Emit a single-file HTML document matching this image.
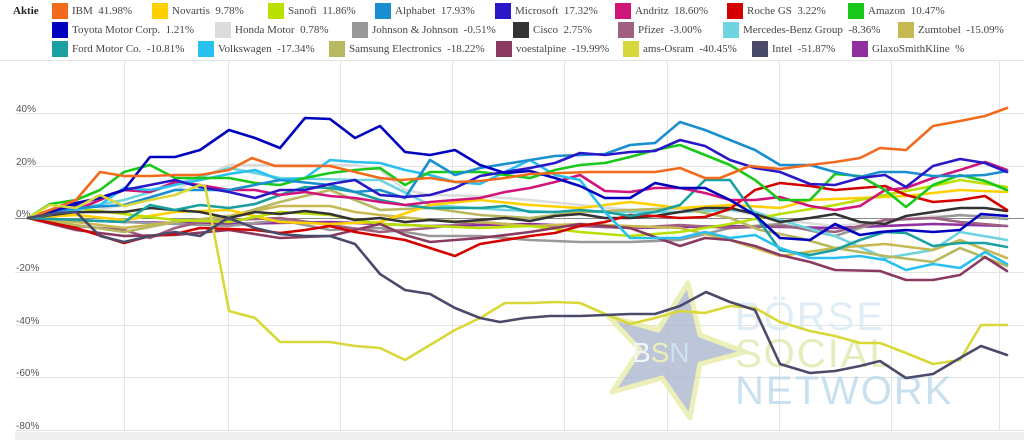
<!DOCTYPE html>
<html><head><meta charset="utf-8"><style>
body{margin:0;background:#fff;width:1024px;height:440px;overflow:hidden;position:relative;font-family:"Liberation Serif",serif}
.lg{position:absolute;font-size:11px;color:#444;white-space:nowrap;line-height:15px}
.sw{position:absolute;width:16px;height:16px}
.yl{position:absolute;left:16px;font-family:"Liberation Sans",sans-serif;font-size:10px;color:#555}
</style></head><body>
<div class="lg" style="left:13px;top:4px;font-weight:bold;color:#222">Aktie</div>
<!-- row1 -->
<div class="sw" style="left:52px;top:3px;background:#f26b1d"></div><div class="lg" style="left:72px;top:4px">IBM&nbsp; 41.98%</div>
<div class="sw" style="left:152px;top:3px;background:#ffd000"></div><div class="lg" style="left:172px;top:4px">Novartis&nbsp; 9.78%</div>
<div class="sw" style="left:268px;top:3px;background:#b8e000"></div><div class="lg" style="left:288px;top:4px">Sanofi&nbsp; 11.86%</div>
<div class="sw" style="left:375px;top:3px;background:#1a8fd0"></div><div class="lg" style="left:395px;top:4px">Alphabet&nbsp; 17.93%</div>
<div class="sw" style="left:495px;top:3px;background:#2a17c8"></div><div class="lg" style="left:515px;top:4px">Microsoft&nbsp; 17.32%</div>
<div class="sw" style="left:615px;top:3px;background:#d0157a"></div><div class="lg" style="left:635px;top:4px">Andritz&nbsp; 18.60%</div>
<div class="sw" style="left:727px;top:3px;background:#d40000"></div><div class="lg" style="left:747px;top:4px">Roche GS&nbsp; 3.22%</div>
<div class="sw" style="left:848px;top:3px;background:#19c819"></div><div class="lg" style="left:868px;top:4px">Amazon&nbsp; 10.47%</div>
<!-- row2 -->
<div class="sw" style="left:52px;top:22px;background:#0000c0"></div><div class="lg" style="left:72px;top:23px">Toyota Motor Corp.&nbsp; 1.21%</div>
<div class="sw" style="left:215px;top:22px;background:#dcdcdc"></div><div class="lg" style="left:235px;top:23px">Honda Motor&nbsp; 0.78%</div>
<div class="sw" style="left:352px;top:22px;background:#999"></div><div class="lg" style="left:372px;top:23px">Johnson &amp; Johnson&nbsp; -0.51%</div>
<div class="sw" style="left:513px;top:22px;background:#333"></div><div class="lg" style="left:533px;top:23px">Cisco&nbsp; 2.75%</div>
<div class="sw" style="left:618px;top:22px;background:#a06080"></div><div class="lg" style="left:638px;top:23px">Pfizer&nbsp; -3.00%</div>
<div class="sw" style="left:723px;top:22px;background:#6ed4e0"></div><div class="lg" style="left:743px;top:23px">Mercedes-Benz Group&nbsp; -8.36%</div>
<div class="sw" style="left:898px;top:22px;background:#c8b850"></div><div class="lg" style="left:918px;top:23px">Zumtobel&nbsp; -15.09%</div>
<!-- row3 -->
<div class="sw" style="left:52px;top:41px;background:#1aa0a0"></div><div class="lg" style="left:72px;top:42px">Ford Motor Co.&nbsp; -10.81%</div>
<div class="sw" style="left:198px;top:41px;background:#29c0f0"></div><div class="lg" style="left:218px;top:42px">Volkswagen&nbsp; -17.34%</div>
<div class="sw" style="left:329px;top:41px;background:#b8b860"></div><div class="lg" style="left:349px;top:42px">Samsung Electronics&nbsp; -18.22%</div>
<div class="sw" style="left:496px;top:41px;background:#8a3a60"></div><div class="lg" style="left:516px;top:42px">voestalpine&nbsp; -19.99%</div>
<div class="sw" style="left:623px;top:41px;background:#d8d83a"></div><div class="lg" style="left:643px;top:42px">ams-Osram&nbsp; -40.45%</div>
<div class="sw" style="left:752px;top:41px;background:#4a4a6a"></div><div class="lg" style="left:772px;top:42px">Intel&nbsp; -51.87%</div>
<div class="sw" style="left:852px;top:41px;background:#9030a0"></div><div class="lg" style="left:872px;top:42px">GlaxoSmithKline&nbsp; %</div>

<div class="yl" style="top:104px">40%</div>
<div class="yl" style="top:157px">20%</div>
<div class="yl" style="top:209px">0%</div>
<div class="yl" style="top:263px">-20%</div>
<div class="yl" style="top:316px">-40%</div>
<div class="yl" style="top:368px">-60%</div>
<div class="yl" style="top:421px">-80%</div>

<svg width="1024" height="440" style="position:absolute;left:0;top:0" xmlns="http://www.w3.org/2000/svg">
<g stroke="#e4e4e4" stroke-width="1">
<line x1="0" y1="60.5" x2="1024" y2="60.5"/>
<line x1="15" y1="113.5" x2="1024" y2="113.5"/>
<line x1="15" y1="166.5" x2="1024" y2="166.5"/>
<line x1="15" y1="272.5" x2="1024" y2="272.5"/>
<line x1="15" y1="325.5" x2="1024" y2="325.5"/>
<line x1="15" y1="377.5" x2="1024" y2="377.5"/>
<line x1="15" y1="430.5" x2="1024" y2="430.5"/>
<line x1="124.5" y1="60" x2="124.5" y2="431"/><line x1="228.5" y1="60" x2="228.5" y2="431"/>
<line x1="340.5" y1="60" x2="340.5" y2="431"/><line x1="452.5" y1="60" x2="452.5" y2="431"/>
<line x1="564.5" y1="60" x2="564.5" y2="431"/><line x1="667.5" y1="60" x2="667.5" y2="431"/>
<line x1="779.5" y1="60" x2="779.5" y2="431"/><line x1="891.5" y1="60" x2="891.5" y2="431"/>
<line x1="999.5" y1="60" x2="999.5" y2="431"/>
</g>
<rect x="15" y="432" width="1009" height="8" fill="#eeeeee"/>
<line x1="15" y1="218.5" x2="1024" y2="218.5" stroke="#888" stroke-width="1"/>

<!-- watermark -->
<g opacity="0.75">
<polygon points="688,283 700,335 745,352 700,364 690,418 662,378 612,392 640,350 608,316 658,330" fill="#a8b4cc" stroke="#e6eaa0" stroke-width="5" stroke-linejoin="round"/>
<text x="632" y="362" font-family="Liberation Sans,sans-serif" font-size="28" fill="#eef2f8">B<tspan fill="#e6eaa0">S</tspan><tspan fill="#bcd8ea">N</tspan></text>
<text x="735" y="330" font-family="Liberation Sans,sans-serif" font-size="40" fill="#d8e8f2" letter-spacing="2">BÖRSE</text>
<text x="735" y="367" font-family="Liberation Sans,sans-serif" font-size="40" fill="#dde8a8" letter-spacing="2">SOCIAL</text>
<text x="735" y="404" font-family="Liberation Sans,sans-serif" font-size="40" fill="#b8d6ea" letter-spacing="2">NETWORK</text>
</g>

<g fill="none" stroke-width="2.6" stroke-linejoin="round" stroke-linecap="round">
<polyline stroke="#dcdcdc" points="28,218 76,214 124,205 175,190 229,165 305,165 355,165 380,170 405,190 430,195 480,196 530,200 580,205 630,210 680,212 730,210 780,220 835,226 885,222 933,216 1007,215"/>
<polyline stroke="#9030a0" points="28,218 124,222 229,224 330,222 430,226 530,224 630,228 730,226 835,228 933,224 1007,226"/>
<polyline stroke="#999" points="28,218 124,222 229,226 280,220 330,230 380,228 430,236 480,236 530,240 580,242 630,242 680,240 730,228 780,224 835,236 885,220 933,218 960,215 1007,219"/>
<polyline stroke="#a06080" points="28,218 76,226 124,230 150,238 175,228 200,222 229,220 280,218 330,225 380,232 430,228 480,222 530,226 580,226 630,228 680,225 730,228 780,226 835,232 885,220 933,218 960,222 1007,226"/>
<polyline stroke="#6ed4e0" points="28,218 124,200 229,168 280,178 355,180 380,180 430,205 505,210 555,212 630,212 680,212 730,210 755,212 800,226 835,236 885,258 933,250 960,232 1007,240"/>
<polyline stroke="#c8b850" points="28,218 76,222 124,228 175,222 229,216 280,206 330,206 355,212 380,215 430,220 480,222 530,226 580,224 630,226 680,228 730,240 780,256 835,248 885,244 933,250 960,240 1007,258"/>
<polyline stroke="#b8b860" points="28,218 76,225 124,232 175,222 229,217 280,202 330,190 380,210 430,208 480,215 530,218 580,212 630,210 680,208 730,218 760,230 800,238 835,248 885,256 933,262 960,248 1007,266"/>
<polyline stroke="#ffd000" points="28,218 76,215 124,220 175,212 229,210 280,222 330,224 380,222 430,205 480,200 530,205 580,208 630,202 680,208 730,205 780,208 810,200 860,198 906,196 960,190 1007,192"/>
<polyline stroke="#b8e000" points="28,218 76,208 124,214 175,220 229,222 280,212 330,215 380,224 430,226 480,228 530,226 580,232 630,236 680,232 730,224 780,214 835,205 885,195 933,186 960,180 1007,187"/>
<polyline stroke="#333" points="28,218 76,212 124,212 150,208 175,210 200,212 229,218 255,212 280,214 305,211 330,214 355,220 380,218 405,222 430,220 455,222 480,220 505,218 530,221 555,216 580,214 605,218 630,218 655,216 680,212 705,208 730,208 755,214 780,222 810,218 835,214 860,222 885,224 906,216 933,212 960,208 985,208 1007,211"/>
<polyline stroke="#8a3a60" points="28,218 76,230 124,236 175,235 229,230 280,238 330,236 380,224 405,235 430,242 480,238 530,232 580,224 630,228 680,246 705,238 730,240 755,246 780,255 810,262 835,270 880,271 906,280 933,280 960,275 985,257 1007,271"/>
<polyline stroke="#d40000" points="28,218 76,228 124,243 150,236 175,234 200,228 229,229 255,230 280,233 305,230 330,226 355,232 380,236 405,240 430,248 455,256 480,244 505,240 530,236 555,233 580,226 605,222 630,215 655,216 680,218 705,217 730,209 755,190 780,183 810,186 835,190 860,188 885,186 906,195 933,202 960,200 985,196 1007,210"/>
<polyline stroke="#1aa0a0" points="28,218 76,220 124,222 150,205 175,210 200,205 229,208 255,204 280,195 305,187 330,188 355,192 380,200 405,205 430,208 455,208 480,208 505,206 530,212 555,212 580,210 605,212 630,216 655,212 680,205 705,180 730,180 755,215 780,250 810,255 835,250 860,240 885,232 906,233 933,246 960,243 985,243 1007,247"/>
<polyline stroke="#d0157a" points="28,218 76,210 124,190 150,192 175,182 200,185 229,190 255,190 280,195 305,192 330,196 355,198 380,202 405,205 430,202 455,200 480,198 505,192 530,188 555,182 580,175 605,191 630,192 655,188 680,188 705,193 730,200 755,200 780,197 810,206 835,210 860,206 885,190 906,188 933,178 960,170 985,162 1007,170"/>
<polyline stroke="#29c0f0" points="28,218 76,210 100,205 124,188 150,190 175,185 200,180 229,174 255,170 280,180 305,178 330,160 355,162 380,163 405,170 430,175 455,182 480,184 505,172 530,160 555,175 580,180 605,212 630,238 655,238 680,238 705,232 730,238 755,235 780,248 810,258 835,258 860,256 885,260 906,270 933,264 960,268 985,252 1007,264"/>
<polyline stroke="#19c819" points="28,218 50,204 76,200 100,190 124,172 150,165 175,178 200,178 229,178 255,183 280,185 305,178 330,173 355,170 380,168 405,185 430,172 455,172 480,172 505,175 530,178 555,170 580,165 605,163 630,157 655,150 680,145 705,155 730,165 755,180 780,200 810,200 835,174 860,176 885,190 906,207 933,185 960,175 985,181 1007,190"/>
<polyline stroke="#1a8fd0" points="28,218 76,208 124,205 175,190 229,190 280,180 330,185 355,192 380,190 405,198 430,160 455,175 480,168 505,164 530,160 555,156 580,155 605,154 630,145 655,143 680,122 705,130 730,140 755,150 780,165 810,165 835,172 860,177 880,172 906,172 933,176 960,176 985,175 1007,171"/>
<polyline stroke="#2a17c8" points="28,218 76,205 124,190 150,185 175,180 200,187 229,192 255,198 280,190 305,190 330,184 355,180 380,195 405,197 430,195 455,188 480,176 505,172 530,168 555,163 580,153 605,155 630,152 655,151 680,140 705,146 730,160 755,168 780,172 810,184 835,185 860,178 885,175 906,187 933,166 960,159 985,163 1007,172"/>
<polyline stroke="#0000c0" points="28,218 50,212 76,203 100,198 124,190 150,157 175,157 200,150 229,130 255,138 280,148 305,118 330,119 355,138 380,126 405,152 430,155 455,150 480,165 505,173 530,171 555,178 580,186 605,198 630,198 655,183 680,188 705,188 730,200 755,215 780,238 810,240 835,224 860,235 880,232 906,230 933,232 960,230 981,214 1007,216"/>
<polyline stroke="#f26b1d" points="28,218 50,210 76,200 100,172 124,176 150,176 175,175 200,175 229,170 252,158 275,166 300,166 330,166 355,172 380,178 400,180 430,178 455,182 480,181 505,178 530,174 560,173 590,172 630,172 655,172 680,168 705,178 720,178 750,166 780,169 810,165 835,162 860,158 880,148 906,150 933,126 960,121 985,116 1007,108"/>
<polyline stroke="#d8d83a" points="28,218 50,205 76,208 100,195 124,206 150,200 175,195 200,185 205,186 229,311 255,318 280,342 305,342 330,342 355,346 380,348 405,360 430,345 455,330 480,318 505,303 530,303 555,302 580,303 605,314 630,324 655,318 680,311 705,313 730,306 755,308 780,322 810,331 835,336 860,343 880,343 906,353 933,364 960,360 981,325 1007,325"/>
<polyline stroke="#4a4a6a" points="28,218 50,214 76,212 100,236 124,242 150,236 175,232 200,236 228,218 255,228 280,234 305,236 330,236 355,244 380,274 405,290 430,294 455,308 480,318 500,322 525,318 550,316 580,316 605,315 630,314 655,314 680,306 706,292 730,302 755,310 780,364 810,373 835,371 860,366 880,361 906,378 933,374 960,358 981,346 1007,355"/>
</g>
</svg>
</body></html>
